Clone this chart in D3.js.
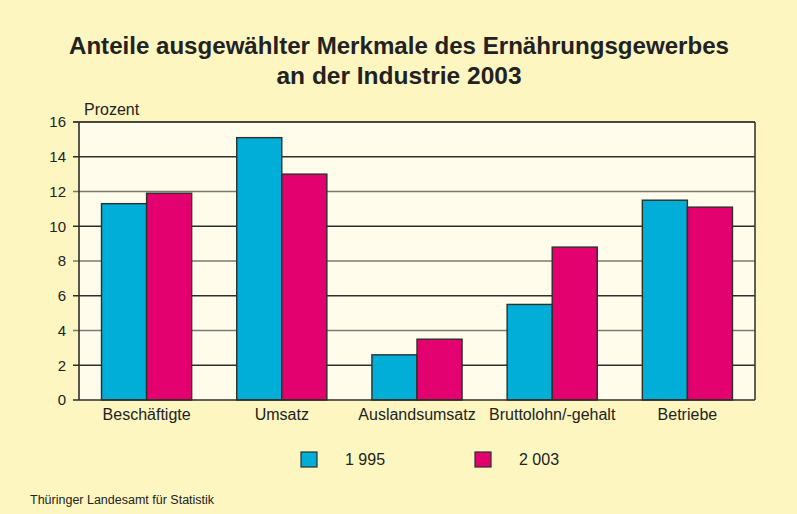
<!DOCTYPE html>
<html><head><meta charset="utf-8">
<script src="https://cdn.jsdelivr.net/npm/d3@7"></script>
<style>body{margin:0;background:#fdf6c0;}svg{display:block;font-family:"Liberation Sans",Arial,sans-serif;}</style>
</head><body>
<script>
const categories = ["Beschäftigte","Umsatz","Auslandsumsatz","Bruttolohn/-gehalt","Betriebe"];
const seriesNames = ["1 995","2 003"];
const values1995 = [11.3, 15.1, 2.6, 5.5, 11.5];
const values2003 = [11.9, 13.0, 3.5, 8.8, 11.1];
const yTicks = [0,2,4,6,8,10,12,14,16];
const colors = ["#00aed8","#e3006f"];

(function(){
const W = 797, H = 514;
const FONT = "Liberation Sans, Arial, sans-serif";
const svg = d3.select("body").append("svg").attr("width", W).attr("height", H);
svg.append("rect").attr("width", W).attr("height", H).attr("fill", "#fdf6c0");

const pL = 79, pR = 755, pT = 122, pB = 400;
const x = d3.scaleBand().domain(categories).range([pL, pR]).paddingInner(1/3).paddingOuter(1/6);
const xs = d3.scaleBand().domain([0,1]).range([0, x.bandwidth()]);
const y = d3.scaleLinear().domain([0,16]).range([pB, pT]);

svg.append("rect").attr("x", pL).attr("y", pT).attr("width", pR-pL).attr("height", pB-pT)
  .attr("fill", "#fffcec");

// grid
svg.append("g").selectAll("line").data(yTicks.filter(d=>d>0)).join("line")
  .attr("x1", pL-6).attr("x2", pR).attr("y1", d=>y(d)).attr("y2", d=>y(d))
  .attr("stroke", d => d % 4 === 0 ? "#7a7a6e" : "#2e2e2a").attr("stroke-width", 1.3);

// bars
const series = [values1995, values2003];
series.forEach((vals, si) => {
  svg.append("g").selectAll("rect").data(categories).join("rect")
    .attr("x", (c) => x(c) + xs(si))
    .attr("y", (c,i) => y(vals[i]))
    .attr("width", xs.bandwidth())
    .attr("height", (c,i) => y(0) - y(vals[i]))
    .attr("fill", colors[si]).attr("stroke", "#2e2e2a").attr("stroke-width", 1.4);
});

// axes frame
svg.append("line").attr("x1", pL).attr("x2", pL).attr("y1", pT).attr("y2", pB).attr("stroke", "#2e2e2a").attr("stroke-width", 1.6);
svg.append("line").attr("x1", pR).attr("x2", pR).attr("y1", pT).attr("y2", pB).attr("stroke", "#3a3a34").attr("stroke-width", 1.6);
svg.append("line").attr("x1", pL-6).attr("x2", pR).attr("y1", pB).attr("y2", pB).attr("stroke", "#2e2e2a").attr("stroke-width", 1.6);
svg.append("line").attr("x1", pL-6).attr("x2", pR).attr("y1", pT).attr("y2", pT).attr("stroke", "#2e2e2a").attr("stroke-width", 1.6);

// y tick labels
const yAxis = d3.axisLeft(y).tickValues(yTicks).tickSize(0).tickPadding(13);
const ya = svg.append("g").attr("transform", `translate(${pL},0)`).call(yAxis);
ya.select(".domain").remove();
ya.attr("font-size", 15).attr("font-family", FONT);
ya.selectAll("text").attr("fill", "#222");

// x labels
const xAxis = d3.axisBottom(x).tickSize(0).tickPadding(9);
const xa = svg.append("g").attr("transform", `translate(0,${pB})`).call(xAxis);
xa.select(".domain").remove();
xa.attr("font-size", 16).attr("font-family", FONT);
xa.selectAll("text").attr("fill", "#222");

svg.append("text").attr("x", 84).attr("y", 115).attr("font-size", 16).attr("fill", "#222").text("Prozent");

// title
svg.append("text").attr("x", 399).attr("y", 54).attr("text-anchor", "middle").attr("font-size", 24).attr("font-weight", "bold")
  .attr("fill", "#222").attr("textLength", 660).attr("lengthAdjust", "spacingAndGlyphs").text("Anteile ausgewählter Merkmale des Ernährungsgewerbes");
svg.append("text").attr("x", 399).attr("y", 84).attr("text-anchor", "middle").attr("font-size", 24).attr("font-weight", "bold")
  .attr("fill", "#222").attr("textLength", 245).attr("lengthAdjust", "spacingAndGlyphs").text("an der Industrie 2003");

// legend
const legX = [301, 475];
seriesNames.forEach((n, i) => {
  svg.append("rect").attr("x", legX[i]).attr("y", 452).attr("width", 16).attr("height", 15)
    .attr("fill", colors[i]).attr("stroke", "#2e2e2a").attr("stroke-width", 1.2);
  svg.append("text").attr("x", legX[i] + 44).attr("y", 465).attr("font-size", 16).attr("fill", "#222").text(n);
});

svg.append("text").attr("x", 30).attr("y", 504).attr("font-size", 12.5).attr("fill", "#222").text("Thüringer Landesamt für Statistik");
})();
</script>
</body></html>
